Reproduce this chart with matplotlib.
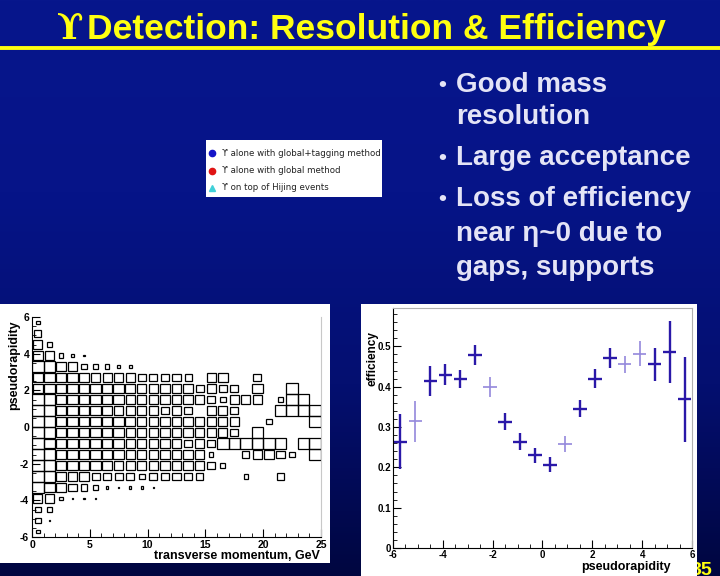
import numpy as np
import matplotlib
matplotlib.use("Agg")
import matplotlib.pyplot as plt
from matplotlib.patches import Rectangle
from matplotlib.lines import Line2D
from matplotlib.colors import LinearSegmentedColormap
from matplotlib.ticker import MultipleLocator

plt.rcParams['font.family'] = ['Liberation Sans', 'DejaVu Sans']
plt.rcParams['axes.unicode_minus'] = False

# --- left panel: pseudorapidity vs pT box histogram (box size / bin size, base-36 tenths) ---
pt_edges = np.arange(0, 26, 1.0)
eta_edges = np.round(np.arange(6.0, -6.01, -0.6), 2)   # top row first
box_rows = [
    "3000000000000000000000000",
    "6000000000000000000000000",
    "8400000000000000000000000",
    "9842100000000000000000000",
    "aa88554330000000000000000",
    "9999988887777608900700000",
    "9999999998888878770900a00",
    "aa99999988888887588804aa0",
    "aa9999988887870887000aaaa",
    "aa9999999888888888005000a",
    "aa99999988888888870a00000",
    "a999999988888787aaaaaa0aa",
    "aa9999998888888400689750a",
    "aa99999888888887400000000",
    "aa88877775777760004006000",
    "a987652122100000000000000",
    "8831110000000000000000000",
    "5400000000000000000000000",
    "5100000000000000000000000",
    "3000000000000000000000000",
]

# --- right panel: efficiency vs pseudorapidity ---
eta_centers = [-5.7, -5.1, -4.5, -3.9, -3.3, -2.7, -2.1, -1.5, -0.9, -0.3,
               0.3, 0.9, 1.5, 2.1, 2.7, 3.3, 3.9, 4.5, 5.1, 5.7]
efficiency = [0.263, 0.314, 0.413, 0.430, 0.419, 0.479, 0.399, 0.313, 0.264, 0.230,
              0.207, 0.258, 0.345, 0.420, 0.471, 0.456, 0.482, 0.456, 0.486, 0.369]
eff_err = [0.068, 0.050, 0.037, 0.027, 0.023, 0.025, 0.024, 0.021, 0.021, 0.019,
           0.019, 0.020, 0.021, 0.024, 0.024, 0.021, 0.030, 0.041, 0.077, 0.105]
faint_points = [1, 6, 11, 15, 16]

legend_labels = ["\u03d2 alone with global+tagging method",
                 "\u03d2 alone with global method",
                 "\u03d2 on top of Hijing events"]
legend_colors = ["#1414c8", "#e01414", "#40d0d8"]
legend_markers = ["o", "o", "^"]

bullets = [("\u2022", "Good mass"), ("", "resolution"), ("\u2022", "Large acceptance"),
           ("\u2022", "Loss of efficiency"), ("", "near \u03b7~0 due to"), ("", "gaps, supports")]
bullet_baselines = [92, 124, 165, 206, 241, 275]

W, H = 720, 576
fig = plt.figure(figsize=(7.2, 5.76), dpi=100)


def fx(px):
    return px / W


def fy(py):
    return 1 - py / H


# background gradient
bg = fig.add_axes([0, 0, 1, 1], zorder=-10)
cmap = LinearSegmentedColormap.from_list("slide", ["#07168c", "#061488", "#040f70", "#000640"])
grad = np.linspace(0, 1, 256).reshape(-1, 1)
bg.imshow(grad, aspect="auto", cmap=cmap, extent=[0, 1, 0, 1])
bg.axis("off")

# title
fig.text(fx(70), fy(39), "\u03d2", color="#ffff10", fontsize=25, fontweight="bold",
         family=["DejaVu Serif"], ha="center", va="baseline")
fig.text(fx(87), fy(39), "Detection: Resolution & Efficiency", color="#ffff10",
         fontsize=25.5, fontweight="bold", ha="left", va="baseline")
fig.add_artist(Line2D([0, 1], [fy(48), fy(48)], color="#ffff10", lw=2.8))

# bullets
for (mark, txt), yb in zip(bullets, bullet_baselines):
    if mark:
        fig.text(fx(438), fy(yb - 1), mark, color="#e4e4f6", fontsize=16, fontweight="bold",
                 va="baseline")
    fig.text(fx(456), fy(yb), txt, color="#e4e4f6", fontsize=20, fontweight="bold",
             va="baseline")

# legend box
fig.add_artist(Rectangle((fx(206), fy(197)), fx(176), 57 / H, facecolor="white",
                         edgecolor="none", transform=fig.transFigure))
for i, (lab, col, mk) in enumerate(zip(legend_labels, legend_colors, legend_markers)):
    yy = fy(153 + 17.5 * i)
    fig.add_artist(Line2D([fx(212)], [yy], marker=mk, color=col, markersize=4.5,
                          transform=fig.transFigure))
    fig.text(fx(222), yy, lab, fontsize=6.2, color="#222222", va="center",
             family=["DejaVu Sans"])

# page number (partly hidden by the right panel)
fig.text(fx(691), fy(575), "35", color="#ffff10", fontsize=14, fontweight="bold",
         va="baseline", zorder=-8)

# white panels
fig.add_artist(Rectangle((0, fy(563)), fx(330), 259 / H, facecolor="white",
                         edgecolor="none", transform=fig.transFigure, zorder=-5))
fig.add_artist(Rectangle((fx(361), 0), fx(336), fy(304), facecolor="white",
                         edgecolor="none", transform=fig.transFigure, zorder=-5))

# ---------- left plot ----------
axL = fig.add_axes([fx(32), fy(537), 289 / W, 220 / H], facecolor="none")
for r, row in enumerate(box_rows):
    yc = (eta_edges[r] + eta_edges[r + 1]) / 2
    for c, ch in enumerate(row[:25]):
        s = int(ch, 36) / 10
        if s <= 0:
            continue
        xc = (pt_edges[c] + pt_edges[c + 1]) / 2
        w, h = s * 1.0, s * 0.6
        axL.add_patch(Rectangle((xc - w / 2, yc - h / 2), w, h, facecolor="none",
                                edgecolor="black", lw=0.9))
axL.set_xlim(0, 25)
axL.set_ylim(-6, 6)
axL.spines["top"].set_visible(False)
axL.spines["right"].set_color("#c8c8c8")
axL.xaxis.set_major_locator(MultipleLocator(5))
axL.xaxis.set_minor_locator(MultipleLocator(1))
axL.yaxis.set_major_locator(MultipleLocator(2))
axL.yaxis.set_minor_locator(MultipleLocator(0.5))
axL.tick_params(direction="in", length=6, width=0.8, labelsize=7.5, pad=2)
axL.tick_params(which="minor", direction="in", length=3, width=0.6)
for lab in axL.get_xticklabels() + axL.get_yticklabels():
    lab.set_fontweight("bold")
fig.text(fx(320), fy(556), "transverse momentum, GeV", fontsize=9, fontweight="bold",
         ha="right", va="center")
fig.text(fx(14), fy(365), "pseudorapidity", fontsize=9, fontweight="bold",
         rotation=90, ha="center", va="center")

# ---------- right plot ----------
axR = fig.add_axes([fx(393), fy(548), 299 / W, 240 / H], facecolor="none")
for i, (x, y, e) in enumerate(zip(eta_centers, efficiency, eff_err)):
    faint = i in faint_points
    axR.errorbar(x, y, xerr=0.27, yerr=e, fmt="none",
                 ecolor="#9488dc" if faint else "#2a18a8",
                 elinewidth=1.2 if faint else 1.7, capsize=0)
axR.set_xlim(-6, 6)
axR.set_ylim(0, 0.595)
axR.xaxis.set_major_locator(MultipleLocator(2))
axR.xaxis.set_minor_locator(MultipleLocator(0.5))
axR.yaxis.set_minor_locator(MultipleLocator(0.02))
axR.spines["top"].set_color("#b0b0b0")
axR.spines["right"].set_color("#b0b0b0")
axR.tick_params(direction="in", length=6, width=0.8, labelsize=7, pad=1.5)
axR.tick_params(which="minor", direction="in", length=3, width=0.6)
axR.set_yticks([0, 0.1, 0.2, 0.3, 0.4, 0.5])
axR.set_yticklabels(["0", "0.1", "0.2", "0.3", "0.4", "0.5"])
for lab in axR.get_xticklabels() + axR.get_yticklabels():
    lab.set_fontweight("bold")
fig.text(fx(372), fy(359), "efficiency", fontsize=8.5, fontweight="bold",
         rotation=90, ha="center", va="center")
fig.text(fx(671), fy(567), "pseudorapidity", fontsize=9, fontweight="bold",
         ha="right", va="center")

fig.savefig("out.png", dpi=100)
